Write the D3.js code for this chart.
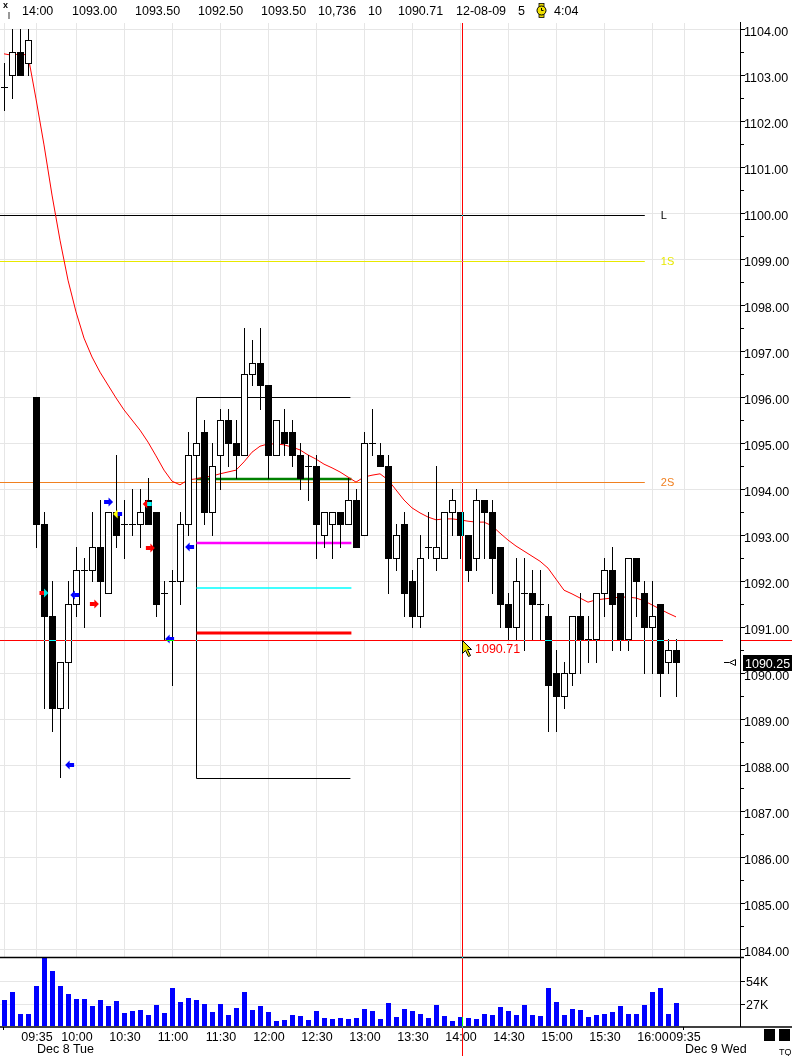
<!DOCTYPE html>
<html><head><meta charset="utf-8">
<script src="https://cdn.jsdelivr.net/npm/d3@7/dist/d3.min.js"></script>
<style>
html,body{margin:0;padding:0;background:#fff;}
svg{display:block;font-family:"Liberation Sans",Arial,sans-serif;}
</style></head><body>
<svg id="c" width="792" height="1056"></svg>
<script>
// ---------- DATA (5-minute bars, index 0 = Dec 7 16:00) ----------
const opens = [1102.75,1103.0,1103.5,1103.25,1096.0,1093.25,1091.25,1089.25,1090.25,1091.5,
 1092.25,1092.25,1092.75,1091.75,1093.5,1093.25,1093.25,1093.25,1093.75,1093.5,
 1091.75,1092.0,1092.0,1093.25,1094.75,1095.25,1093.5,1094.75,1095.5,1095.0,
 1094.75,1096.5,1096.75,1096.25,1094.75,1095.25,1095.25,1094.75,1094.5,1094.5,
 1093.0,1093.25,1093.5,1093.25,1093.75,1093.0,1095.0,1094.75,1094.5,1092.5,
 1093.25,1092.0,1091.25,1092.75,1092.5,1092.5,1093.5,1093.5,1093.0,1092.5,
 1093.75,1093.5,1092.75,1091.5,1091.0,1091.75,1091.75,1091.5,1091.25,1090.0,
 1089.5,1090.0,1091.25,1090.75,1090.75,1091.75,1092.25,1091.75,1090.75,1092.5,
 1091.75,1091.0,1091.5,1090.25,1090.5];
const highs = [1103.25,1104.0,1104.0,1104.0,1096.0,1093.5,1092.0,1090.25,1092.0,1092.75,
 1092.5,1093.5,1093.75,1093.5,1094.75,1093.75,1094.0,1094.0,1094.25,1093.5,
 1092.0,1092.25,1093.5,1095.25,1095.75,1095.5,1095.0,1095.75,1095.75,1095.5,
 1097.5,1097.25,1097.5,1096.25,1095.5,1095.75,1095.5,1095.0,1094.75,1094.75,
 1093.5,1093.5,1093.5,1094.25,1094.0,1095.25,1095.75,1095.0,1094.75,1093.25,
 1093.5,1092.25,1093.0,1093.5,1094.5,1093.5,1094.0,1093.5,1093.0,1094.0,
 1093.75,1093.75,1092.75,1091.75,1092.5,1092.5,1092.25,1092.25,1091.5,1090.5,
 1090.25,1091.25,1091.75,1091.25,1091.75,1092.5,1092.75,1091.75,1092.5,1092.5,
 1092.0,1092.0,1091.5,1090.75,1090.75];
const lows = [1102.25,1102.5,1103.0,1103.0,1092.75,1089.25,1088.75,1087.75,1089.25,1091.25,
 1091.0,1092.0,1091.25,1091.75,1092.75,1092.5,1093.0,1092.75,1093.25,1091.25,
 1090.75,1089.75,1091.5,1093.0,1094.25,1093.25,1093.0,1094.0,1094.5,1094.25,
 1094.75,1096.25,1095.75,1094.25,1094.75,1094.75,1094.5,1094.0,1093.75,1092.5,
 1092.75,1092.5,1092.75,1093.25,1092.75,1093.0,1094.75,1094.5,1091.75,1092.25,
 1091.25,1091.0,1091.0,1092.5,1092.25,1092.5,1093.0,1092.5,1092.0,1092.25,
 1092.5,1091.75,1091.0,1090.75,1090.75,1090.5,1090.75,1090.75,1088.75,1088.75,
 1089.25,1089.75,1090.0,1090.25,1090.25,1091.25,1090.5,1090.5,1090.5,1091.25,
 1090.0,1090.0,1089.5,1090.0,1089.5];
const closes = [1102.75,1103.5,1103.0,1103.75,1093.25,1091.25,1089.25,1090.25,1091.5,1092.25,
 1092.25,1092.75,1092.0,1093.5,1093.0,1093.25,1093.25,1093.5,1093.25,1091.5,
 1091.75,1092.0,1093.25,1094.75,1095.0,1093.5,1094.5,1095.5,1095.0,1094.75,
 1096.5,1096.75,1096.25,1094.75,1095.5,1095.0,1094.75,1094.25,1094.5,1093.25,
 1093.5,1093.5,1093.25,1093.75,1092.75,1095.0,1095.0,1094.5,1092.5,1093.0,
 1091.75,1091.25,1092.5,1092.75,1092.75,1093.5,1093.75,1093.0,1092.25,1093.75,
 1093.5,1092.5,1091.5,1091.0,1092.0,1091.75,1091.5,1091.5,1089.75,1089.5,
 1090.0,1091.25,1090.75,1090.75,1091.75,1092.25,1091.5,1090.75,1092.5,1092.0,
 1091.0,1091.25,1090.0,1090.5,1090.25];
const maValues = [1103.46,1103.43,1103.46,1103.43,1102.48,1101.48,1100.39,1099.41,1098.54,1097.85,
 1097.28,1096.87,1096.54,1096.26,1095.98,1095.72,1095.50,1095.28,1095.02,1094.72,
 1094.41,1094.17,1094.09,1094.20,1094.22,1094.26,1094.28,1094.33,1094.37,1094.41,
 1094.59,1094.80,1094.93,1094.98,1094.98,1094.96,1094.91,1094.85,1094.74,1094.65,
 1094.54,1094.46,1094.37,1094.26,1094.15,1094.26,1094.30,1094.33,1094.20,1093.98,
 1093.76,1093.59,1093.48,1093.39,1093.33,1093.35,1093.35,1093.33,1093.30,1093.28,
 1093.28,1093.20,1093.04,1092.89,1092.76,1092.65,1092.54,1092.43,1092.28,1092.04,
 1091.80,1091.72,1091.63,1091.54,1091.59,1091.61,1091.63,1091.65,1091.65,1091.63,
 1091.57,1091.48,1091.39,1091.30,1091.22];
const volumes = [31,40.5,14.3,14.3,47.6,81.8,65.5,47.6,38.1,32.2,
 32.2,23.8,31,23.8,29.8,15.5,17.9,19.1,13.1,25,
 15.5,45.3,28.6,33.3,31,26.2,16.7,26.2,13.1,21.4,
 40.5,19.1,23.8,16.7,6,7.1,13.1,11.9,7.1,17.9,
 9.5,8.3,9.5,8.3,9.5,20.2,17.9,8.3,27.4,10.7,
 20.2,17.9,14.3,9.5,25,11.9,6,10.7,9.5,8.3,
 14.3,13.1,22.6,17.9,13.1,25,13.1,11.9,45.3,28.6,
 13.1,20.2,19.1,10.7,13.1,14.3,16.7,23.8,14.3,14.3,
 25,40.5,45.3,14.3,27.4];
const timeTickIndex = [4,9,15,21,27,33,39,45,51,57,63,69,75,81,85];
const timeTickLabels = ["09:35","10:00","10:30","11:00","11:30","12:00","12:30","13:00","13:30","14:00","14:30","15:00","15:30","16:00","09:35"];
const gridIndex = [0,4,9,15,21,27,33,39,45,51,57,63,69,75,81,85];
const dayIndex = [4,85];
const dayLabels = ["Dec 8 Tue","Dec 9 Wed"];
const priceTicks = [1084,1085,1086,1087,1088,1089,1090,1091,1092,1093,1094,1095,1096,1097,1098,1099,1100,1101,1102,1103,1104];
const volumeTicks = [27,54];
const volumeTickLabels = ["27K","54K"];
const levelValues = [1099.96,1098.96,1094.16];
const levelLabels = ["L","1S","2S"];
const boxHigh = 1096.0, boxLow = 1087.72, boxStartIdx = 24, boxEndIdx = 43.3;
const boxLevels = [1094.21,1092.83,1091.84,1090.88];
const signalIdx = [5,8.85,8.2,11.3,13.07,14.2,17.9,18.3,20.7,23.2];
const signalPrice = [1091.74,1091.70,1088.0,1091.5,1093.72,1093.46,1093.67,1092.72,1090.74,1092.74];
const signalDir = [1,-1,-1,1,1,-1,-1,1,-1,-1];
const crossIdx = 57.25, crossPrice = 1090.71, lastPrice = 1090.25;
const headerTexts = ["14:00","1093.00","1093.50","1092.50","1093.50","10,736","10","1090.71","12-08-09","5","4:04"];

// ---------- STYLES ----------
const levelColors = ["#000000","#e8e800","#f08020"];
const boxColors = ["#008000","#ff00ff","#00ffff","#ff0000"];
const boxWidths = [2.5,2.5,1.5,3];
const signalHead = ["#00e0e0","#0000ff","#0000ff","#ff0000","#0000ff","#ffff00","#ff0000","#ff0000","#0000ff","#0000ff"];
const signalTail = ["#ff0000","#0000ff","#0000ff","#ff0000","#0000ff","#0000ff","#00ffff","#ff0000","#0000ff","#0000ff"];
const headerX = [22,72,135,198,261,318,368,398,456,518,554];

// ---------- SCALES ----------
const svg = d3.select("#c");
const x = d3.scaleLinear().domain([0,85]).range([4,684]);
const y = d3.scaleLinear().domain([1084,1104]).range([949,29]);
const yv = d3.scaleLinear().domain([0,54]).range([1026,981]);
const px = v => Math.round(v) + 0.5;
const AX = 740;

const defs = svg.append("defs");
defs.append("clipPath").attr("id","pclip").append("rect").attr("x",0).attr("y",22).attr("width",AX).attr("height",935);

// grids
const grid = svg.append("g").attr("stroke","#e6e6e6").attr("stroke-width",1);
grid.selectAll(".hg").data(priceTicks).join("line")
  .attr("x1",0).attr("x2",AX).attr("y1",d=>px(y(d))).attr("y2",d=>px(y(d)));
grid.selectAll(".vg").data(gridIndex).join("line")
  .attr("x1",d=>px(x(d))).attr("x2",d=>px(x(d))).attr("y1",23).attr("y2",957);
grid.selectAll(".vv").data(volumeTicks).join("line")
  .attr("x1",0).attr("x2",AX).attr("y1",d=>px(yv(d))).attr("y2",d=>px(yv(d)));

const plot = svg.append("g").attr("clip-path","url(#pclip)");

// level lines
levelValues.forEach((v,k)=>{
  plot.append("line").attr("x1",0).attr("x2",x(80.1)).attr("y1",px(y(v))).attr("y2",px(y(v)))
    .attr("stroke",levelColors[k]).attr("stroke-width",1);
  svg.append("text").attr("x",x(82.1)).attr("y",y(v)+4.5).attr("font-size",11)
    .attr("fill",levelColors[k]).text(levelLabels[k]);
});

// box
const bx0 = px(x(boxStartIdx)), bx1 = x(boxEndIdx);
plot.append("line").attr("x1",bx0).attr("x2",bx1).attr("y1",px(y(boxHigh))).attr("y2",px(y(boxHigh))).attr("stroke","#000");
plot.append("line").attr("x1",bx0).attr("x2",bx1).attr("y1",px(y(boxLow))).attr("y2",px(y(boxLow))).attr("stroke","#000");
plot.append("line").attr("x1",bx0).attr("x2",bx0).attr("y1",px(y(boxHigh))).attr("y2",px(y(boxLow))).attr("stroke","#000");
boxLevels.forEach((v,k)=>{
  plot.append("line").attr("x1",bx0).attr("x2",bx1+1).attr("y1",Math.round(y(v))).attr("y2",Math.round(y(v)))
    .attr("stroke",boxColors[k]).attr("stroke-width",boxWidths[k]);
});

// moving average
plot.append("path").datum(maValues)
  .attr("d",d3.line().x((d,i)=>x(i)).y(d=>y(d)))
  .attr("fill","none").attr("stroke","#ff0000").attr("stroke-width",1);

// candles
const cg = plot.append("g");
opens.forEach((o,i)=>{
  const c = closes[i], cx = Math.round(x(i));
  cg.append("line").attr("x1",cx+0.5).attr("x2",cx+0.5)
    .attr("y1",Math.round(y(highs[i]))).attr("y2",Math.round(y(lows[i]))+1)
    .attr("stroke","#000").attr("stroke-width",1);
  if (o === c) {
    cg.append("line").attr("x1",cx-3).attr("x2",cx+4).attr("y1",px(y(c))).attr("y2",px(y(c)))
      .attr("stroke","#000").attr("stroke-width",1);
  } else {
    const t = Math.round(y(Math.max(o,c))), b = Math.round(y(Math.min(o,c)));
    cg.append("rect").attr("x",cx-2.5).attr("y",t+0.5).attr("width",6).attr("height",b-t)
      .attr("fill",c>o?"#fff":"#000").attr("stroke","#000").attr("stroke-width",1);
  }
});

// signal arrows
signalIdx.forEach((si,k)=>{
  const cx = x(si), cy = Math.round(y(signalPrice[k])), d = signalDir[k];
  const g = plot.append("g").attr("transform",`translate(${cx},${cy}) scale(${d},1)`);
  g.append("rect").attr("x",-4.5).attr("y",-2).attr("width",5).attr("height",4).attr("fill",signalTail[k]);
  g.append("path").attr("d","M0,-4.5L4.5,0L0,4.5Z").attr("fill",signalHead[k]);
});

// volume bars
svg.append("g").selectAll("rect").data(volumes).join("rect")
  .attr("x",(d,i)=>Math.round(x(i))-2).attr("width",5)
  .attr("y",d=>Math.round(yv(d))).attr("height",d=>1026-Math.round(yv(d)))
  .attr("fill","#0000ff");

// frame lines
svg.append("line").attr("x1",0).attr("x2",AX+4).attr("y1",957.5).attr("y2",957.5).attr("stroke","#000").attr("stroke-width",1.5);
svg.append("line").attr("x1",0).attr("x2",792).attr("y1",1027).attr("y2",1027).attr("stroke","#000").attr("stroke-width",1.5);
svg.append("line").attr("x1",AX+0.5).attr("x2",AX+0.5).attr("y1",22).attr("y2",1027).attr("stroke","#000").attr("stroke-width",1);

// price axis
const ax = svg.append("g");
ax.selectAll(".mt").data(priceTicks).join("line")
  .attr("x1",AX).attr("x2",AX+5).attr("y1",d=>px(y(d))).attr("y2",d=>px(y(d))).attr("stroke","#000");
ax.selectAll(".nt").data(priceTicks.slice(0,-1)).join("line")
  .attr("x1",AX).attr("x2",AX+4).attr("y1",d=>px(y(d+0.5))).attr("y2",d=>px(y(d+0.5))).attr("stroke","#000");
ax.selectAll(".pl").data(priceTicks).join("text")
  .attr("x",AX+4).attr("y",d=>y(d)+6.5).attr("font-size",12.5).attr("fill","#000")
  .text(d=>d.toFixed(2));
ax.selectAll(".vt").data(volumeTicks).join("line")
  .attr("x1",AX).attr("x2",AX+5).attr("y1",d=>px(yv(d))).attr("y2",d=>px(yv(d))).attr("stroke","#000");
ax.selectAll(".vl").data(volumeTicks).join("text")
  .attr("x",AX+6).attr("y",d=>yv(d)+5).attr("font-size",12.5).attr("fill","#000")
  .text((d,i)=>volumeTickLabels[i]);

// time axis
svg.append("g").selectAll("text").data(timeTickIndex).join("text")
  .attr("x",d=>x(d)+1).attr("y",1041).attr("text-anchor","middle").attr("font-size",12.5).attr("fill","#000")
  .text((d,i)=>timeTickLabels[i]);
svg.append("g").selectAll("text").data(dayIndex).join("text")
  .attr("x",d=>x(d)+1).attr("y",1053).attr("font-size",12.5).attr("fill","#000")
  .text((d,i)=>dayLabels[i]);
svg.append("g").selectAll("line").data([0,85]).join("line")
  .attr("x1",d=>px(x(d))-1).attr("x2",d=>px(x(d))-1).attr("y1",1027).attr("y2",1030).attr("stroke","#000");

// last price marker
const ly = y(lastPrice);
svg.append("line").attr("x1",724).attr("x2",729).attr("y1",px(ly)).attr("y2",px(ly)).attr("stroke","#000");
svg.append("path").attr("d",`M729.5,${px(ly)}L735.5,${px(ly)-3}L735.5,${px(ly)+3}Z`).attr("fill","#fff").attr("stroke","#000");
svg.append("rect").attr("x",743).attr("y",Math.round(ly)-7).attr("width",49).attr("height",16).attr("fill","#000");
svg.append("text").attr("x",745).attr("y",Math.round(ly)+6).attr("font-size",12.5).attr("fill","#fff").text(lastPrice.toFixed(2));

// crosshair (XOR-like)
const ch = svg.append("g").style("mix-blend-mode","difference").attr("stroke","#00ffff").attr("stroke-width",1);
ch.append("line").attr("x1",px(x(crossIdx))).attr("x2",px(x(crossIdx))).attr("y1",23).attr("y2",1056);
ch.append("line").attr("x1",0).attr("x2",723).attr("y1",px(y(crossPrice))).attr("y2",px(y(crossPrice)));
ch.append("line").attr("x1",AX+1).attr("x2",792).attr("y1",px(y(crossPrice))).attr("y2",px(y(crossPrice)));

// cursor + crosshair label
const cxp = Math.round(x(crossIdx)), cyp = Math.round(y(crossPrice));
svg.append("path").attr("transform",`translate(${cxp+0.5},${cyp+0.5})`)
  .attr("d","M0,0L0,13L3,10L6,16L8,15L5,9L9,9Z").attr("fill","#e8e000").attr("stroke","#000").attr("stroke-width",1);
svg.append("text").attr("x",cxp+13).attr("y",cyp+13).attr("font-size",12.5).attr("fill","#ff0000").text(crossPrice.toFixed(2));

// header
svg.append("g").selectAll("text").data(headerTexts).join("text")
  .attr("x",(d,i)=>headerX[i]).attr("y",15).attr("font-size",12.5).attr("fill","#000").text(d=>d);
svg.append("text").attr("x",3).attr("y",8).attr("font-size",9).attr("font-weight","bold").text("x");
svg.append("rect").attr("x",8).attr("y",12).attr("width",2).attr("height",7).attr("fill","#999");
// clock icon
const clk = svg.append("g").attr("transform","translate(541.5,10.5)");
clk.append("rect").attr("x",-2.5).attr("y",-7).attr("width",5).attr("height",14).attr("fill","#e8d800").attr("stroke","#000").attr("stroke-width",0.8);
clk.append("circle").attr("r",4.5).attr("fill","#f0e000").attr("stroke","#000").attr("stroke-width",1);
clk.append("path").attr("d","M0,-2.5L0,0L2,0").attr("stroke","#000").attr("fill","none");

// bottom right widgets
svg.append("rect").attr("x",764).attr("y",1029).attr("width",11).attr("height",12).attr("fill","#000");
svg.append("rect").attr("x",779).attr("y",1029).attr("width",11).attr("height",12).attr("fill","#000");
svg.append("text").attr("x",779).attr("y",1055).attr("font-size",9).attr("fill","#000").text("TQ");
</script>
</body></html>
